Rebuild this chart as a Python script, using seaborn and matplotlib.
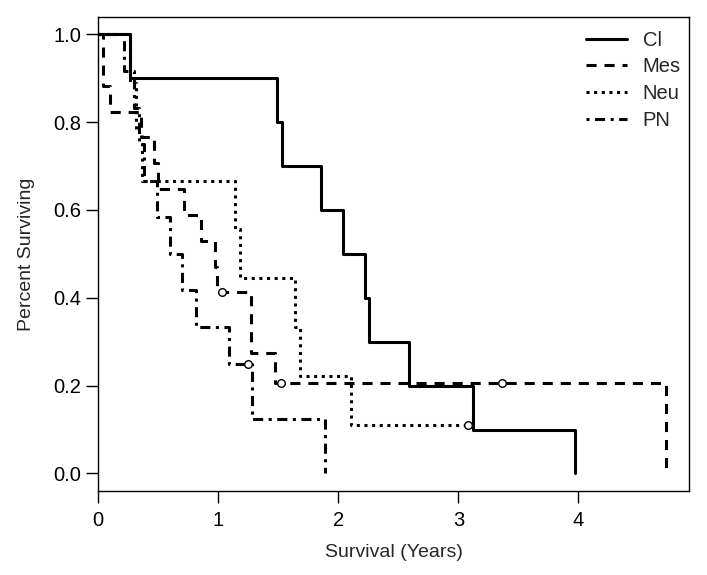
import matplotlib
matplotlib.use("Agg")
import matplotlib.pyplot as plt
import seaborn as sns

# Kaplan-Meier step points (time in years, survival fraction)
cl_time = [0, 0.27, 1.49, 1.53, 1.86, 2.04, 2.22, 2.26, 2.59, 3.12, 3.97]
cl_surv = [1.0, 0.9, 0.8, 0.7, 0.6, 0.5, 0.4, 0.3, 0.2, 0.1, 0.0]

mes_time = [0, 0.04, 0.10, 0.36, 0.47, 0.50, 0.72, 0.86, 0.97, 0.99, 1.27, 1.47, 4.73]
mes_surv = [1.0, 0.882, 0.824, 0.765, 0.706, 0.647, 0.588, 0.529, 0.471, 0.412, 0.275, 0.206, 0.0]
mes_cens_time = [1.03, 1.52, 3.36]
mes_cens_surv = [0.412, 0.206, 0.206]

neu_time = [0, 0.27, 0.32, 0.37, 1.14, 1.18, 1.64, 1.68, 2.11, 3.08]
neu_surv = [1.0, 0.889, 0.778, 0.667, 0.556, 0.444, 0.333, 0.222, 0.111, 0.111]
neu_cens_time = [3.08]
neu_cens_surv = [0.111]

pn_time = [0, 0.22, 0.30, 0.34, 0.38, 0.49, 0.60, 0.70, 0.815, 1.09, 1.28, 1.89]
pn_surv = [1.0, 0.917, 0.833, 0.75, 0.667, 0.583, 0.5, 0.417, 0.333, 0.25, 0.125, 0.0]
pn_cens_time = [1.25]
pn_cens_surv = [0.25]

x_ticks = [0, 1, 2, 3, 4]
y_ticks = [0.0, 0.2, 0.4, 0.6, 0.8, 1.0]

sns.set_style("ticks")
plt.rcParams["font.family"] = ["Liberation Sans", "DejaVu Sans"]

fig = plt.figure(figsize=(7.07, 5.75), dpi=100)
ax = fig.add_axes([98 / 707, 84 / 575, 591 / 707, 474.3 / 575])

lw = 2.2
styles = {
    "Cl": "-",
    "Mes": (0, (3.3, 2.6)),
    "Neu": (0, (1, 1.5)),
    "PN": (0, (1, 1.8, 3.3, 1.8)),
}
curves = [("Cl", cl_time, cl_surv), ("Mes", mes_time, mes_surv),
          ("Neu", neu_time, neu_surv), ("PN", pn_time, pn_surv)]
for name, t, s in curves:
    sns.lineplot(x=t, y=s, ax=ax, estimator=None, drawstyle="steps-post",
                 color="black", linewidth=lw, linestyle=styles[name], label=name)

# censoring marks
for t, s in [(mes_cens_time, mes_cens_surv), (neu_cens_time, neu_cens_surv),
             (pn_cens_time, pn_cens_surv)]:
    sns.scatterplot(x=t, y=s, ax=ax, marker="o", s=30, facecolor="white",
                    edgecolor="black", linewidth=1.0, zorder=5, legend=False)

ax.set_xlim(0, 4.92)
ax.set_ylim(-0.04, 1.04)
ax.set_xticks(x_ticks)
ax.set_xticklabels([str(v) for v in x_ticks])
ax.set_yticks(y_ticks)
ax.set_yticklabels([f"{v:.1f}" for v in y_ticks])
ax.tick_params(axis="both", direction="out", length=8.6, width=1.0, labelsize=14.5, colors="black")
ax.tick_params(axis="x", pad=6)
ax.tick_params(axis="y", pad=3.5)
for sp in ax.spines.values():
    sp.set_visible(True)
    sp.set_color("black")
    sp.set_linewidth(1.0)

ax.set_xlabel("Survival (Years)", fontsize=14, labelpad=10)
ax.set_ylabel("Percent Surviving", fontsize=14, labelpad=13)

ax.legend(loc="upper right", frameon=False, fontsize=14.5, handlelength=2.0,
          handletextpad=0.8, labelspacing=0.38, bbox_to_anchor=(1.01, 1.0),
          borderaxespad=0.3)

fig.savefig("out.png", dpi=100)
